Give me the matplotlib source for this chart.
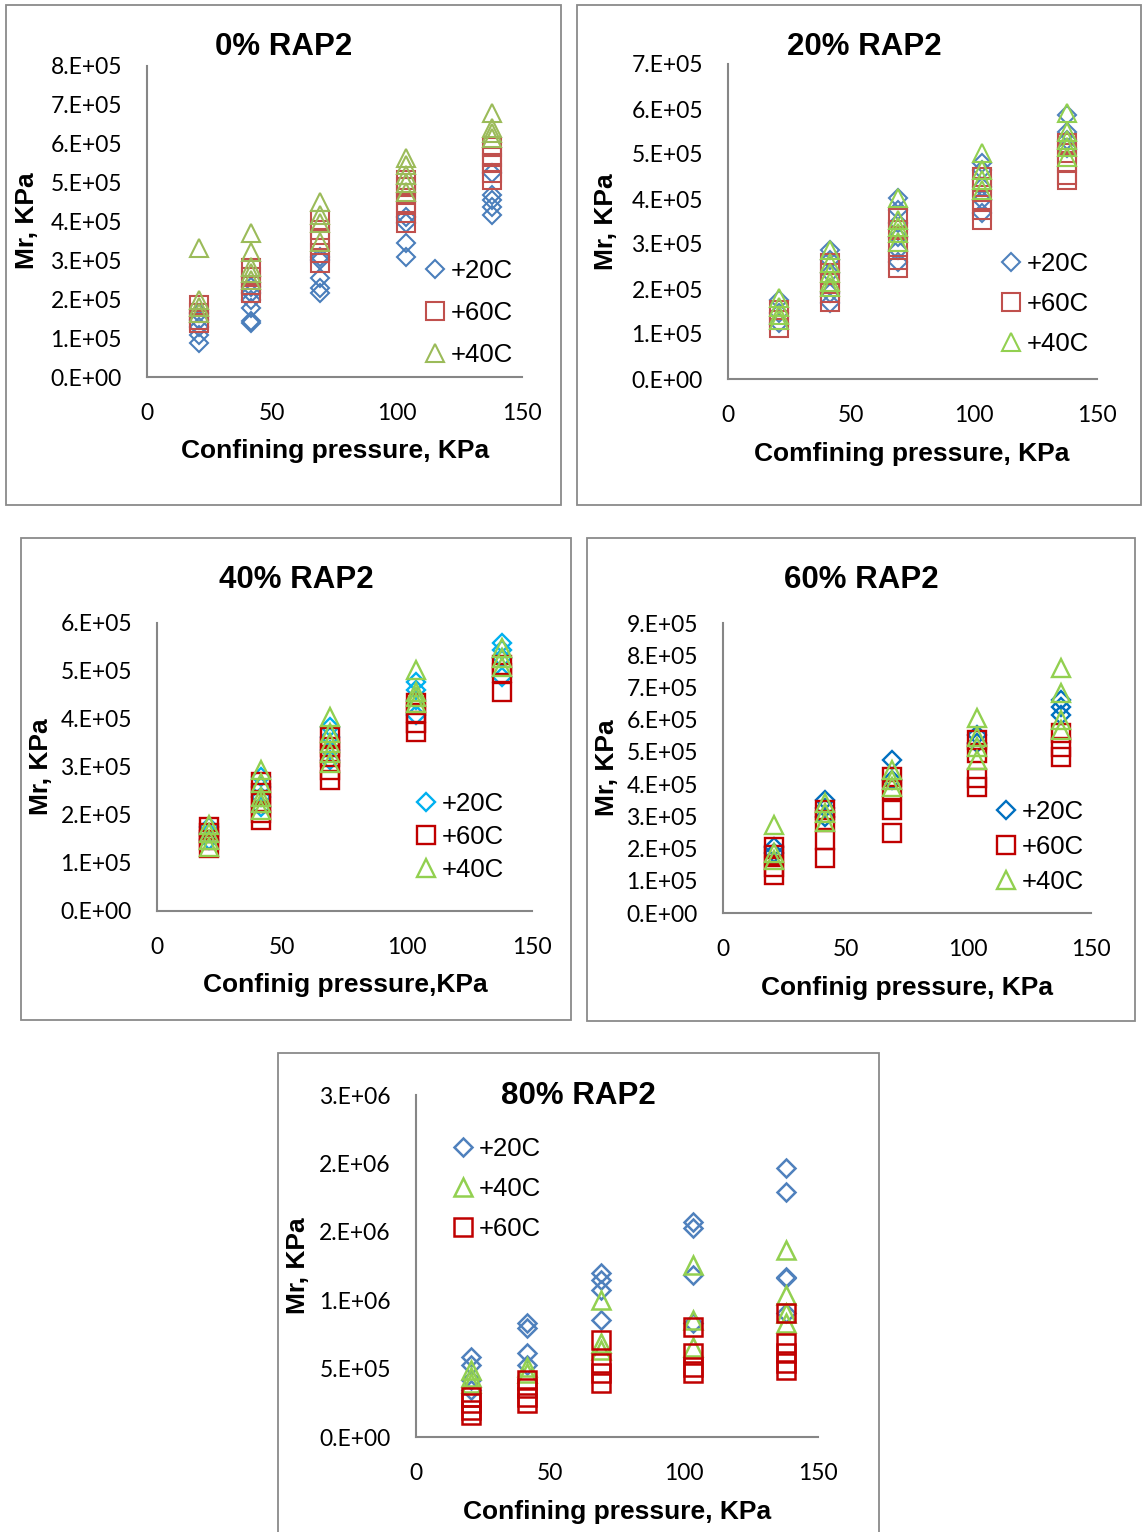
import numpy as np
import matplotlib
matplotlib.use("Agg")
from matplotlib import pyplot as plt
from matplotlib.patches import Rectangle

W, H = 1142, 1532

# confining pressures of the test sequence, kPa
cp = [20.7, 41.4, 69.0, 103.4, 137.9]

# resilient modulus, in 1e5 kPa, one inner list per confining pressure
mr0_20 = [[0.87, 1.08, 1.29, 1.47, 1.64], [1.39, 1.45, 1.77, 1.98, 2.16, 2.31],
          [2.16, 2.29, 2.54, 3.01, 3.08], [3.08, 3.44, 3.96, 4.11], [4.16, 4.37, 4.55, 4.68, 5.24]]
mr0_60 = [[1.39, 1.47, 1.64, 1.85], [2.16, 2.36, 2.57, 2.80],
          [2.93, 3.19, 3.52, 3.78, 4.04], [3.96, 4.21, 4.47, 4.73, 4.88, 5.06], [5.06, 5.24, 5.50, 5.66, 5.91]]
mr0_40 = [[1.64, 1.80, 1.98, 3.32], [2.49, 2.67, 2.83, 3.21, 3.70],
          [3.47, 3.96, 4.16, 4.50], [4.76, 4.99, 5.19, 5.45, 5.63], [6.14, 6.27, 6.40, 6.79]]

mr20_20 = [[1.24, 1.47, 1.76], [1.69, 1.91, 2.36, 2.64, 2.87],
           [2.60, 2.87, 3.16, 3.47, 3.76, 4.02], [3.69, 3.98, 4.27, 4.64, 4.80], [5.13, 5.31, 5.49, 5.87]]
mr20_60 = [[1.13, 1.31, 1.53], [1.71, 1.91, 2.13, 2.36, 2.58],
           [2.47, 2.64, 2.93, 3.31, 3.58], [3.53, 3.76, 3.98, 4.27, 4.49], [4.42, 4.53, 4.80, 5.02, 5.24]]
mr20_40 = [[1.31, 1.42, 1.60, 1.80], [2.04, 2.16, 2.36, 2.58, 2.87],
           [3.04, 3.24, 3.38, 3.53, 4.02], [4.20, 4.42, 4.64, 5.02], [4.93, 5.16, 5.31, 5.49, 5.91]]

mr40_20 = [[1.48, 1.62, 1.75], [2.17, 2.38, 2.58, 2.79],
           [3.15, 3.35, 3.63, 3.83], [4.08, 4.40, 4.60, 4.77], [4.88, 5.27, 5.44, 5.58]]
mr40_60 = [[1.31, 1.48, 1.62, 1.75], [1.90, 2.04, 2.25, 2.46, 2.69],
           [2.73, 2.94, 3.21, 3.42, 3.63], [3.73, 3.92, 4.13, 4.33], [4.56, 4.96, 5.13]]
mr40_40 = [[1.33, 1.48, 1.62, 1.79], [2.10, 2.25, 2.38, 2.67, 2.94],
           [3.08, 3.29, 3.50, 3.71, 4.04], [4.33, 4.46, 4.56, 5.02], [5.08, 5.27, 5.48]]

mr60_20 = [[1.86, 2.05], [2.98, 3.26, 3.51], [4.13, 4.75], [5.28, 5.53], [6.15, 6.40, 6.61]]
mr60_60 = [[1.18, 1.43, 1.80, 2.05], [1.71, 2.27, 2.89, 3.20],
           [2.48, 3.20, 3.82, 4.22], [3.91, 4.19, 4.97, 5.37], [4.84, 5.16, 5.59]]
mr60_40 = [[1.65, 1.86, 2.73], [2.83, 3.11, 3.42], [3.91, 4.13, 4.44],
           [4.75, 5.16, 5.47, 6.06], [5.68, 5.99, 6.83, 7.61]]

mr80_20 = [[3.44, 4.17, 5.26, 5.85], [5.26, 6.14, 7.97, 8.33],
           [8.55, 10.75, 11.48, 11.99], [8.33, 11.84, 15.28, 15.72], [9.06, 11.62, 11.70, 17.91, 19.66]]
mr80_40 = [[3.95, 4.39, 4.90], [4.68, 5.12], [6.36, 6.87, 10.01],
           [6.58, 8.55, 12.57], [8.33, 9.06, 10.38, 13.67]]
mr80_60 = [[1.61, 1.97, 2.49, 2.92], [2.49, 2.92, 3.58, 4.17],
           [3.95, 4.68, 5.41, 7.09], [4.68, 5.12, 6.14, 8.04], [4.90, 5.41, 6.14, 6.87, 9.06]]

xticks = [0, 50, 100, 150]
yticks_0 = [0, 1e5, 2e5, 3e5, 4e5, 5e5, 6e5, 7e5, 8e5]
ylabels_0 = ["0.E+00", "1.E+05", "2.E+05", "3.E+05", "4.E+05", "5.E+05", "6.E+05", "7.E+05", "8.E+05"]
yticks_20 = yticks_0[:8]
ylabels_20 = ylabels_0[:8]
yticks_40 = yticks_0[:7]
ylabels_40 = ylabels_0[:7]
yticks_60 = yticks_0 + [9e5]
ylabels_60 = ylabels_0 + ["9.E+05"]
yticks_80 = [0, 5e5, 1e6, 1.5e6, 2e6, 2.5e6]
ylabels_80 = ["0.E+00", "5.E+05", "1.E+06", "2.E+06", "2.E+06", "3.E+06"]

BOLD = "Liberation Sans"
TICKF = "Lato"


def fbox(l, t, r, b):
    return [l / W, 1 - b / H, (r - l) / W, (b - t) / H]


def points(cols):
    x = np.repeat(cp, [len(c) for c in cols])
    y = np.concatenate([np.array(c) for c in cols]) * 1e5
    return x, y


def panel(fig, p):
    l, t, r, b = p["ax"]
    fig.patches.append(Rectangle((p["frame"][0] / W, 1 - p["frame"][3] / H),
                                 (p["frame"][2] - p["frame"][0]) / W,
                                 (p["frame"][3] - p["frame"][1]) / H,
                                 transform=fig.transFigure, fill=False,
                                 edgecolor="#8a8a8a", lw=1.3, zorder=0))
    ax = fig.add_axes(fbox(l, t, r, b))
    for cols, lab, mk, ms, col in p["series"]:
        x, y = points(cols)
        ax.plot(x, y, ls="none", marker=mk, ms=ms, mfc="none", mec=col,
                mew=p.get("mew", 1.5), label=lab, clip_on=False)
    ax.set_xlim(0, 150)
    ax.set_ylim(p["yticks"][0], p["yticks"][-1])
    ax.set_xticks(xticks)
    ax.set_xticklabels([str(v) for v in xticks])
    ax.set_yticks(p["yticks"])
    ax.set_yticklabels(p["ylabels"])
    for s in ["top", "right"]:
        ax.spines[s].set_visible(False)
    for s in ["left", "bottom"]:
        ax.spines[s].set_color("#868686")
        ax.spines[s].set_linewidth(1.5)
    ax.tick_params(length=0, labelsize=16.5)
    ax.tick_params(axis="x", pad=19)
    ax.tick_params(axis="y", pad=18)
    for tl in ax.get_xticklabels() + ax.get_yticklabels():
        tl.set_fontfamily(TICKF)

    w, h = r - l, b - t
    ax.set_xlabel(p["xlabel"], fontsize=19, fontweight="bold", family=BOLD)
    ax.xaxis.label.set_va("center")
    ax.xaxis.set_label_coords((p["xl"][0] - l) / w, (b - p["xl"][1]) / h)
    ax.set_ylabel("Mr, KPa", fontsize=19, fontweight="bold", family=BOLD)
    ax.yaxis.label.set_va("center")
    ax.yaxis.set_label_coords((p["yl"][0] - l) / w, (b - p["yl"][1]) / h)
    fig.text(p["title_xy"][0] / W, 1 - (p["title_xy"][1] + 3) / H, p["title"],
             fontsize=22.5, fontweight="bold", family=BOLD, ha="center", va="center")

    lx, ly = p["leg"]
    ax.legend(loc="center left", bbox_to_anchor=((lx - l) / w, (b - ly) / h),
              frameon=False, numpoints=1, handlelength=0.8, handletextpad=0.2,
              borderpad=0, borderaxespad=0, labelspacing=p["lsp"],
              prop={"family": BOLD, "size": 18.5})
    return ax


panels = [
    dict(ax=(147, 66, 522, 377), frame=(6, 5, 561, 505), title="0% RAP2", title_xy=(284, 44),
         xlabel="Confining pressure, KPa", xl=(335, 451), yl=(27, 221), leg=(425, 313), lsp=0.7,
         yticks=yticks_0, ylabels=ylabels_0,
         series=[(mr0_20, "+20C", "D", 9, "#4A7EBB"),
                 (mr0_60, "+60C", "s", 12.5, "#C0504D"),
                 (mr0_40, "+40C", "^", 13, "#9BBB59")]),
    dict(ax=(728, 64, 1097, 379), frame=(577, 5, 1141, 505), title="20% RAP2", title_xy=(864, 44),
         xlabel="Comfining pressure, KPa", xl=(912, 454), yl=(606, 222), leg=(1001, 304), lsp=0.62,
         yticks=yticks_20, ylabels=ylabels_20,
         series=[(mr20_20, "+20C", "D", 9, "#4F81BD"),
                 (mr20_60, "+60C", "s", 12.5, "#C0504D"),
                 (mr20_40, "+40C", "^", 12.5, "#92D050")]),
    dict(ax=(157, 623, 532, 911), frame=(21, 538, 571, 1020), title="40% RAP2", title_xy=(296, 577),
         xlabel="Confinig pressure,KPa", xl=(345, 985), yl=(41, 767), leg=(416, 837), lsp=0.36,
         yticks=yticks_40, ylabels=ylabels_40, mew=1.7,
         series=[(mr40_20, "+20C", "D", 9.2, "#00B0F0"),
                 (mr40_60, "+60C", "s", 13, "#C00000"),
                 (mr40_40, "+40C", "^", 13, "#92D050")]),
    dict(ax=(723, 623, 1091, 913), frame=(587, 538, 1135, 1021), title="60% RAP2", title_xy=(861, 577),
         xlabel="Confinig pressure, KPa", xl=(907, 988), yl=(607, 768), leg=(996, 847), lsp=0.44,
         yticks=yticks_60, ylabels=ylabels_60, mew=1.7,
         series=[(mr60_20, "+20C", "D", 9.2, "#0070C0"),
                 (mr60_60, "+60C", "s", 13, "#C00000"),
                 (mr60_40, "+40C", "^", 13, "#92D050")]),
    dict(ax=(416, 1095, 818, 1437), frame=(278, 1053, 879, 1540), title="80% RAP2", title_xy=(578, 1093),
         xlabel="Confining pressure, KPa", xl=(617, 1512), yl=(298, 1266), leg=(453, 1189), lsp=0.62,
         yticks=yticks_80, ylabels=ylabels_80, mew=1.8,
         series=[(mr80_20, "+20C", "D", 9, "#4F81BD"),
                 (mr80_40, "+40C", "^", 12.5, "#92D050"),
                 (mr80_60, "+60C", "s", 12.5, "#C00000")]),
]

fig = plt.figure(figsize=(W / 100, H / 100), dpi=100)
for p in panels:
    panel(fig, p)

fig.savefig("out.png", dpi=100)
